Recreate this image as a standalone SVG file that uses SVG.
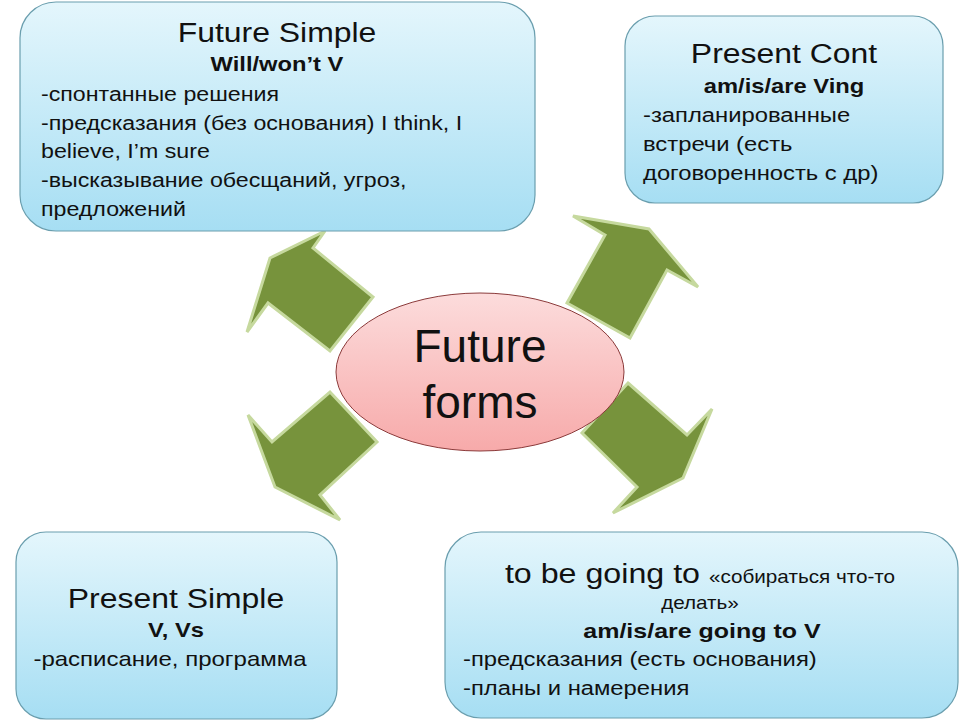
<svg xmlns="http://www.w3.org/2000/svg" width="960" height="720" viewBox="0 0 960 720">
<defs>
<linearGradient id="boxg" x1="0" y1="0" x2="0" y2="1">
<stop offset="0" stop-color="#E4F6FC"/>
<stop offset="1" stop-color="#A6DEF3"/>
</linearGradient>
<linearGradient id="ellg" x1="0" y1="0" x2="0" y2="1">
<stop offset="0" stop-color="#FCDCDC"/>
<stop offset="1" stop-color="#F7AAAA"/>
</linearGradient>
</defs>
<style>
.box{fill:url(#boxg);stroke:#6A9EAE;stroke-width:1.2}
.arrow{fill:#77933C;stroke:#C6D99E;stroke-width:3;stroke-linejoin:miter}
text{font-family:"Liberation Sans",Arial,sans-serif;fill:#111}
.t{font-size:28px;text-anchor:middle}
.b{font-size:21px;font-weight:bold;text-anchor:middle}
.l{font-size:20px}
.c{font-size:20px;text-anchor:middle}
.s{font-size:18px}
.big{font-size:46px;text-anchor:middle}
</style>
<rect width="960" height="720" fill="#FFFFFF"/>
<g id="connectors">
<polygon class="arrow" points="270,258 325,231 313,248 373,297 330,351 268,303 247,332"/>
<polygon class="arrow" points="573,216 649,229 698,287 667,270 630,338 567,303 605,235"/>
<polygon class="arrow" points="248,415 272,442 330,392 377,442 320,495 340,520 275,487"/>
<polygon class="arrow" points="628,383 687,435 712,409 683,478 613,513 637,487 582,433"/>
</g>
<g id="future-simple">
<rect class="box" x="20" y="2" width="515" height="229" rx="36"/>
<g transform="translate(277,0) scale(1.14,1)">
<text class="t" x="0" y="42">Future Simple</text>
</g>
<g transform="translate(277,0) scale(1.13,1)">
<text class="b" x="0" y="71">Will/won’t V</text>
</g>
<g transform="translate(41,0) scale(1.16,1)">
<text class="l" x="0" y="101">-спонтанные решения</text>
<text class="l" x="0" y="130">-предсказания (без основания) I think, I</text>
<text class="l" x="0" y="158">believe, I’m sure</text>
<text class="l" x="0" y="187">-высказывание обесщаний, угроз,</text>
<text class="l" x="0" y="216">предложений</text>
</g>
</g>
<g id="present-cont">
<rect class="box" x="625" y="16" width="318" height="187" rx="30"/>
<g transform="translate(784,0) scale(1.14,1)">
<text class="t" x="0" y="63">Present Cont</text>
</g>
<g transform="translate(784,0) scale(1.13,1)">
<text class="b" x="0" y="93">am/is/are Ving</text>
</g>
<g transform="translate(643,0) scale(1.19,1)">
<text class="l" x="0" y="122">-запланированные</text>
<text class="l" x="0" y="151">встречи (есть</text>
<text class="l" x="0" y="180">договоренность с др)</text>
</g>
</g>
<g id="present-simple">
<rect class="box" x="16" y="532" width="321" height="187" rx="30"/>
<g transform="translate(176,0) scale(1.14,1)">
<text class="t" x="0" y="608">Present Simple</text>
</g>
<g transform="translate(176,0) scale(1.13,1)">
<text class="b" x="0" y="637">V, Vs</text>
</g>
<g transform="translate(170,0) scale(1.2,1)">
<text class="c" x="0" y="666">-расписание, программа</text>
</g>
</g>
<g id="going-to">
<rect class="box" x="445" y="532" width="513" height="186" rx="36"/>
<g transform="translate(700,0) scale(1.15,1)">
<text x="0" y="583" text-anchor="middle"><tspan font-size="28">to be going to </tspan><tspan class="s">«собираться что-то</tspan></text>
<text class="s" x="0" y="609" text-anchor="middle">делать»</text>
</g>
<g transform="translate(702,0) scale(1.19,1)">
<text class="b" x="0" y="638">am/is/are going to V</text>
</g>
<g transform="translate(463,0) scale(1.19,1)">
<text class="l" x="0" y="666">-предсказания (есть основания)</text>
<text class="l" x="0" y="695">-планы и намерения</text>
</g>
</g>
<g id="future-forms">
<ellipse cx="480" cy="372" rx="144" ry="79" fill="url(#ellg)" stroke="#8B3A3A" stroke-width="1"/>
<text class="big" x="480" y="362">Future</text>
<text class="big" x="480" y="418">forms</text>
</g>
</svg>
